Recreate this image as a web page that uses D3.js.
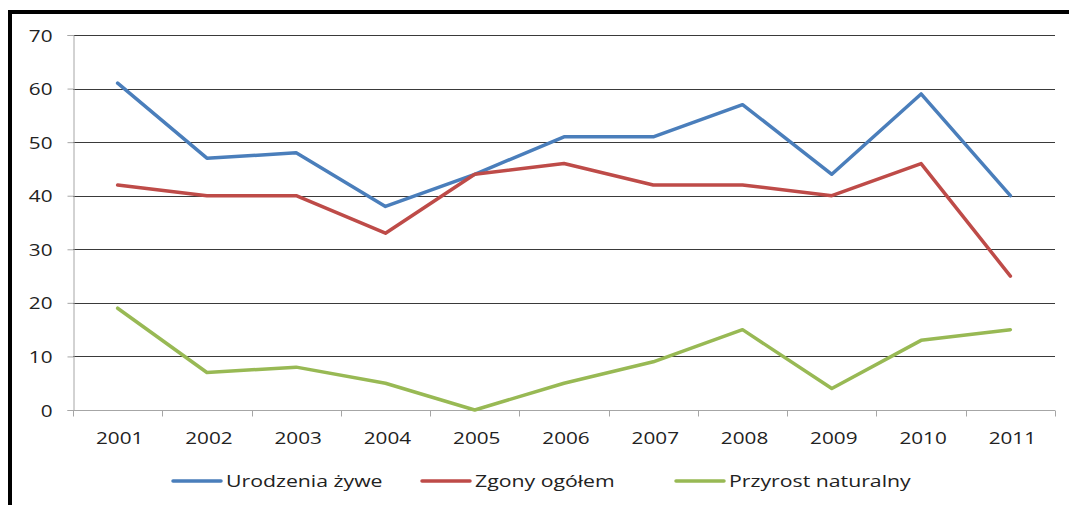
<!DOCTYPE html>
<html>
<head>
<meta charset="utf-8">
<script src="https://d3js.org/d3.v7.js"></script>
<style>
  body { margin: 0; background: #fff; }
  text { font-family: "Open Sans", sans-serif; fill: #222; }
</style>
</head>
<body>
<div id="chart"></div>
<script>
// data
var years = ["2001","2002","2003","2004","2005","2006","2007","2008","2009","2010","2011"];
var urodzenia = [61, 47, 48, 38, 44, 51, 51, 57, 44, 59, 40];
var zgony = [42, 40, 40, 33, 44, 46, 42, 42, 40, 46, 25];
var przyrost = [19, 7, 8, 5, 0, 5, 9, 15, 4, 13, 15];
var seriesNames = ["Urodzenia żywe", "Zgony ogółem", "Przyrost naturalny"];
var yTicks = [0, 10, 20, 30, 40, 50, 60, 70];

var colors = ["#4a7ebb", "#be4b48", "#98b954"];
var series = [urodzenia, zgony, przyrost];

var W = 1069, H = 505;
var plotL = 73, plotR = 1055, plotT = 35, plotB = 410;
var sx = 1.22; // text looks horizontally stretched

var svg = d3.select("#chart").append("svg")
  .attr("width", W).attr("height", H);

// frame (top + left borders)
svg.append("line").attr("x1", 8).attr("x2", W).attr("y1", 12).attr("y2", 12)
  .attr("stroke", "#000").attr("stroke-width", 4);
svg.append("line").attr("x1", 10).attr("x2", 10).attr("y1", 10).attr("y2", H)
  .attr("stroke", "#000").attr("stroke-width", 4);

var x = d3.scaleBand().domain(years).range([plotL, plotR]);
var y = d3.scaleLinear().domain([0, 70]).range([plotB, plotT]);

// gridlines
svg.append("g").selectAll("line").data(yTicks.filter(function(d){ return d > 0; }))
  .enter().append("line")
  .attr("x1", plotL).attr("x2", plotR)
  .attr("y1", function(d){ return Math.round(y(d)) + 0.5; })
  .attr("y2", function(d){ return Math.round(y(d)) + 0.5; })
  .attr("stroke", "#3a3a3a").attr("stroke-width", 1);

// y axis
var yAxis = svg.append("g").attr("transform", "translate(" + (plotL + 0.5) + ",0)")
  .call(d3.axisLeft(y).tickValues(yTicks).tickSize(6).tickPadding(0).tickFormat(d3.format("d")));
yAxis.select(".domain").attr("stroke", "#a6a6a6");
yAxis.selectAll(".tick line").attr("stroke", "#a6a6a6");
yAxis.selectAll(".tick text")
  .attr("x", null).attr("dy", null)
  .attr("text-anchor", "end")
  .attr("font-size", 17)
  .attr("font-family", null)
  .attr("transform", "translate(-21,6) scale(" + sx + ",1)");

// x axis
var xAxis = svg.append("g").attr("transform", "translate(0," + (plotB + 0.5) + ")");
xAxis.append("line").attr("x1", plotL).attr("x2", plotR)
  .attr("stroke", "#a6a6a6");
var bounds = years.map(function(d){ return x(d); }).concat([plotR]);
xAxis.selectAll("line.tk").data(bounds).enter().append("line")
  .attr("class", "tk")
  .attr("x1", function(d){ return Math.round(d) + 0.5; })
  .attr("x2", function(d){ return Math.round(d) + 0.5; })
  .attr("y1", 0).attr("y2", 6)
  .attr("stroke", "#a6a6a6");
xAxis.selectAll("text").data(years).enter().append("text")
  .attr("text-anchor", "middle")
  .attr("font-size", 17)
  .attr("transform", function(d){
    return "translate(" + (x(d) + x.bandwidth() / 2 + 2) + ",33) scale(" + sx + ",1)";
  })
  .text(function(d){ return d; });

// lines
var line = d3.line()
  .x(function(d, i){ return x(years[i]) + x.bandwidth() / 2; })
  .y(function(d){ return y(d); });

svg.append("g").selectAll("path").data(series).enter().append("path")
  .attr("d", line)
  .attr("fill", "none")
  .attr("stroke", function(d, i){ return colors[i]; })
  .attr("stroke-width", 3.5)
  .attr("stroke-linejoin", "round")
  .attr("stroke-linecap", "round");

// legend
var legX = [173, 422, 676];
var leg = svg.append("g").selectAll("g").data(seriesNames).enter().append("g")
  .attr("transform", function(d, i){ return "translate(" + legX[i] + ",481)"; });
leg.append("line").attr("x1", 0).attr("x2", 48).attr("y1", 0).attr("y2", 0)
  .attr("stroke", function(d, i){ return colors[i]; })
  .attr("stroke-width", 3.5).attr("stroke-linecap", "round");
leg.append("text")
  .attr("font-size", 17)
  .attr("transform", "translate(53,6) scale(1.25,1)")
  .text(function(d){ return d; });
</script>
</body>
</html>
